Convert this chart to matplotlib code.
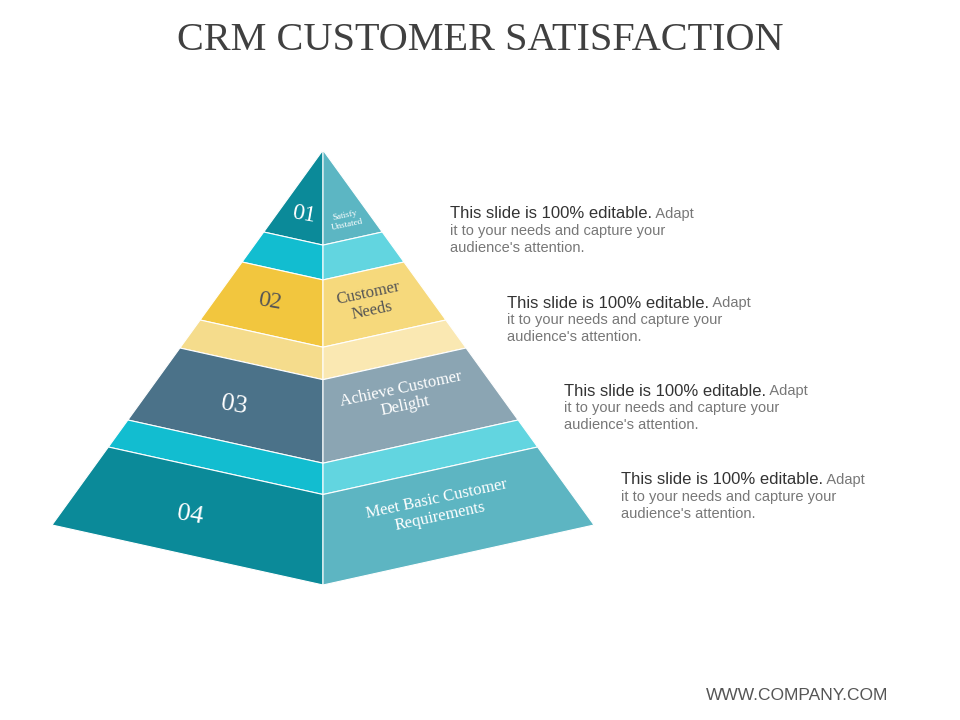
import matplotlib
matplotlib.use("Agg")
import matplotlib.pyplot as plt
from matplotlib.patches import Polygon

title = "CRM CUSTOMER SATISFACTION"
numbers = ["01", "02", "03", "04"]
labels = ["Satisfy\nUnstated", "Customer\nNeeds", "Achieve Customer\nDelight", "Meet Basic Customer\nRequirements"]
desc_head = "This slide is 100% editable."
desc_tail = " Adapt"
desc_rest = "it to your needs and capture your\naudience's attention."
footer = "WWW.COMPANY.COM"

# band colours (left face, right face), top to bottom, incl. separator strips
band_left = ["#0b8a99", "#12bdd0", "#f2c63e", "#f5dc8c", "#4b7289", "#12bdd0", "#0b8a99"]
band_right = ["#5cb6c3", "#62d5e0", "#f6d97c", "#fae8b2", "#8ba5b3", "#62d5e0", "#5db5c2"]
num_colors = ["white", "#555555", "white", "white"]
lab_colors = ["white", "#555555", "white", "white"]

fig = plt.figure(figsize=(9.6, 7.2), dpi=100)
ax = fig.add_axes([0, 0, 1, 1])
ax.set_xlim(0, 960); ax.set_ylim(720, 0); ax.axis("off")

apex_x, apex_y = 323, 150
base_y, half_w = 525, 271
drop = 60 / 271

bounds = [150, 232, 262, 320, 348, 420, 447, 525]

def lx(y):
    return apex_x - (y - apex_y) / (base_y - apex_y) * half_w

def pts(y):
    xl = lx(y)
    xr = 2 * apex_x - xl
    yc = y + drop * (apex_x - xl)
    return (xl, y), (apex_x, yc), (xr, y)

for i in range(len(bounds) - 1):
    a = pts(bounds[i]); b = pts(bounds[i + 1])
    ax.add_patch(Polygon([a[0], a[1], b[1], b[0]], closed=True, fc=band_left[i], ec="white", lw=0.8))
    ax.add_patch(Polygon([a[1], a[2], b[2], b[1]], closed=True, fc=band_right[i], ec="white", lw=0.8))

serif = "Liberation Serif"
main_bands = [(0, 1), (2, 3), (4, 5), (6, 7)]
num_pos = [(304, 215), (270, 302), (234, 405), (190, 515)]
lab_pos = [(346, 220), (370, 302), (403, 398), (438, 508)]
num_sizes = [17, 17, 19, 19]
lab_sizes = [6.5, 12, 12, 12]
for k in range(4):
    ax.text(*num_pos[k], numbers[k], fontfamily=serif, fontsize=num_sizes[k], color=num_colors[k],
            ha="center", va="center", rotation=-10)
    ax.text(*lab_pos[k], labels[k], fontfamily=serif, fontsize=lab_sizes[k], color=lab_colors[k],
            ha="center", va="center", rotation=12, linespacing=1.1)

ax.text(480, 40, title, fontfamily=serif, fontsize=29, color="#404040", ha="center", va="center")
ax.text(888, 695, footer, fontsize=12.5, color="#555555", ha="right", va="center", fontfamily="Liberation Sans")

desc_pos = [(450, 214), (507, 303), (564, 391), (621, 480)]
fig.canvas.draw()
r = fig.canvas.get_renderer()
for (x, y) in desc_pos:
    t = ax.text(x, y, desc_head, fontsize=12, color="#333333", ha="left", va="center", fontfamily="Liberation Sans")
    bb = t.get_window_extent(r)
    x2 = x + bb.width  # axes 1px per unit horizontally
    ax.text(x2, y, desc_tail, fontsize=10.5, color="#777777", ha="left", va="center", fontfamily="Liberation Sans")
    ax.text(x, y + 10, desc_rest, fontsize=10.5, color="#777777", ha="left", va="top",
            fontfamily="Liberation Sans", linespacing=1.25)

fig.savefig("out.png", dpi=100)
